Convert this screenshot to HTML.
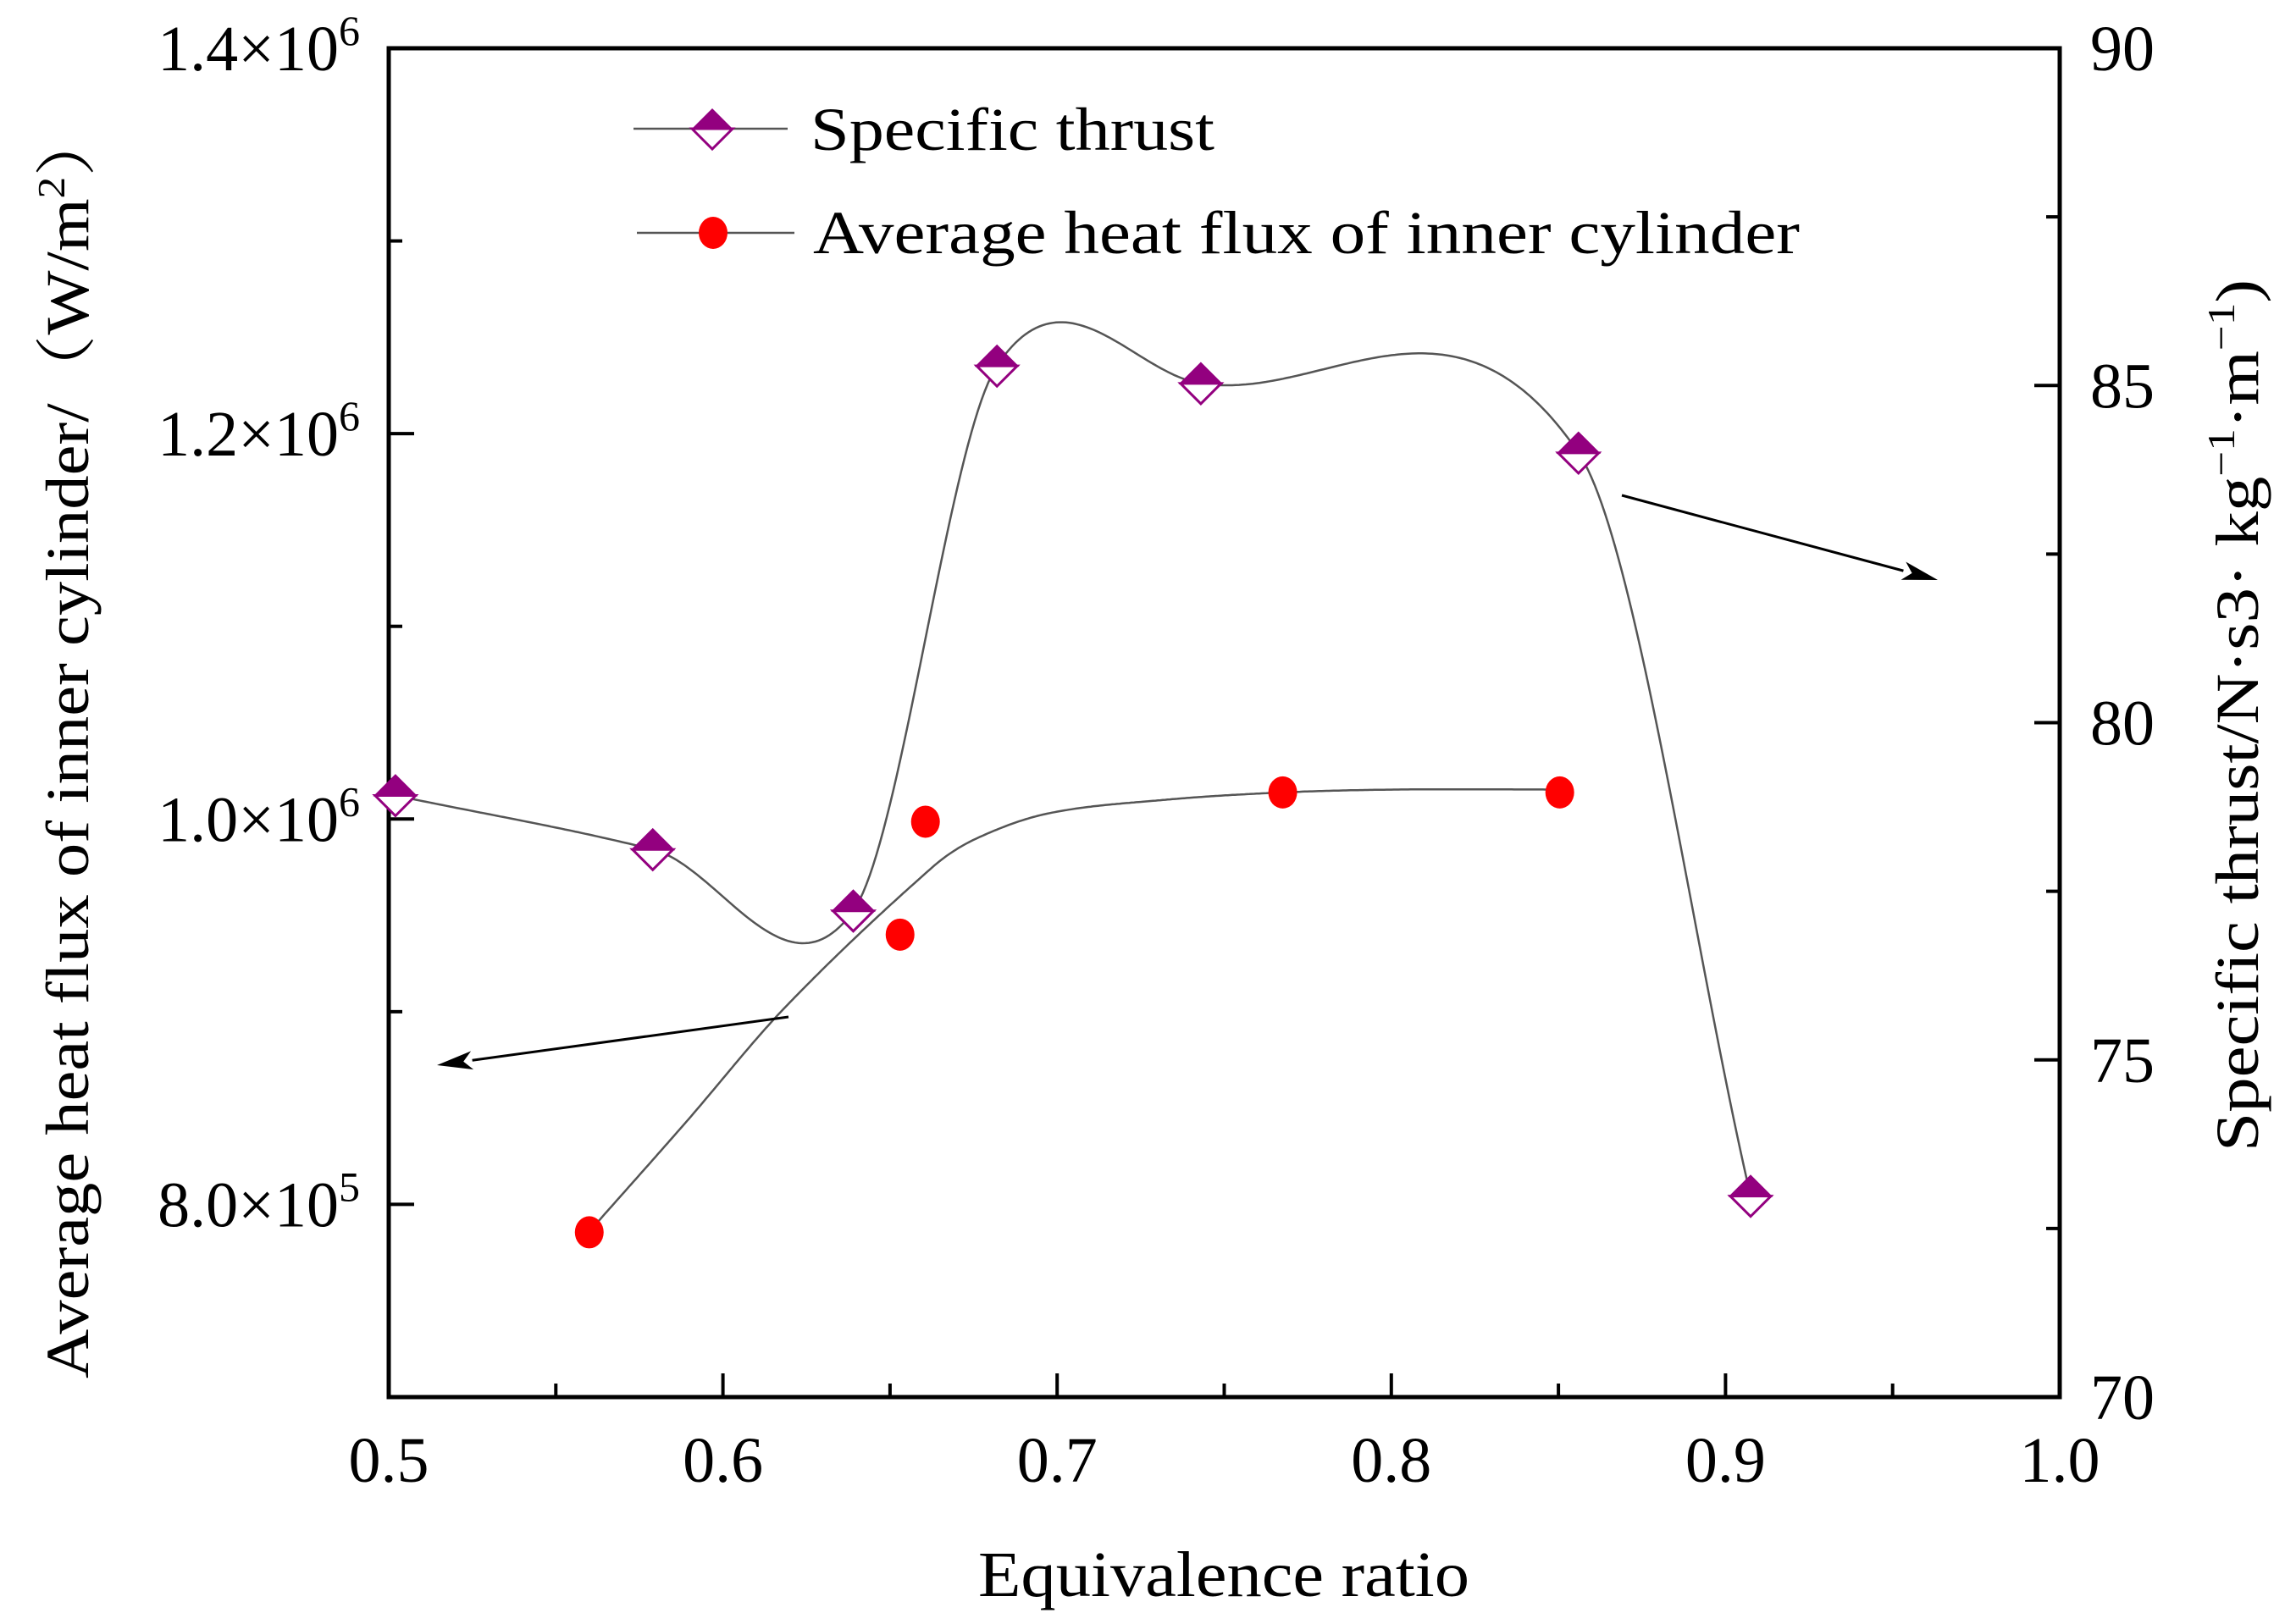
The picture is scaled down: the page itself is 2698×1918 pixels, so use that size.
<!DOCTYPE html>
<html><head><meta charset="utf-8"><style>
html,body{margin:0;padding:0;background:#fff;}
svg{display:block;font-family:"Liberation Serif","Noto Serif CJK SC",serif;}
</style></head><body>
<svg id="chart" width="2698" height="1918" viewBox="0 0 2698 1918">
<g id="grid"></g>
<g id="marks"></g>
</svg>
<script>
const thrustX = [0.502, 0.579, 0.639, 0.682, 0.743, 0.856, 0.9075];
const thrustY = [78.92, 78.12, 77.21, 85.29, 85.03, 84.0, 72.98];
const heatX = [0.560, 0.653, 0.6606, 0.7675, 0.8504];
const heatY = [785500, 940000, 998600, 1013800, 1013800];
const heatFitX = [0.5625, 0.5886, 0.619, 0.6627, 0.676, 0.6976, 0.7325, 0.7675, 0.802, 0.8504];
const heatFitY = [790800, 842000, 903000, 975000, 990000, 1003000, 1010000, 1013800, 1015300, 1015300];
const xTicks = [0.5, 0.6, 0.7, 0.8, 0.9, 1.0];
const xTickLabels = ["0.5","0.6","0.7","0.8","0.9","1.0"];
const leftTicks = [800000, 1000000, 1200000, 1400000];
const leftTickMant = ["8.0","1.0","1.2","1.4"];
const leftTickExp = ["5","6","6","6"];
const rightTicks = [70, 75, 80, 85, 90];

const L=459, R=2432, T=57, B=1650;
const X0=0.5, X1=1.0, YL0=700000, YL1=1400000, YR0=70, YR1=90;
const sx = v => L + (v-X0)/(X1-X0)*(R-L);
const syL = v => B - (v-YL0)/(YL1-YL0)*(B-T);
const syR = v => B - (v-YR0)/(YR1-YR0)*(B-T);
const NS="http://www.w3.org/2000/svg";
const grid=document.getElementById('grid'), marks=document.getElementById('marks');
function mk(tag, attrs, parent){const e=document.createElementNS(NS,tag);for(const k in attrs)e.setAttribute(k,attrs[k]);parent.appendChild(e);return e;}

let fr=mk('path',{d:`M${L},${T} H${R} V${B} H${L} Z`,fill:'none',stroke:'#000','stroke-width':5},grid);



for(let v=0.5; v<=1.0001; v+=0.05){
  const major=Math.abs(Math.round(v*10)-v*10)<1e-6;
  const x=sx(v);
  const t=mk('line',{x1:x,y1:B,x2:x,y2:B-(major?28:16),stroke:'#000','stroke-width':4},grid);
  
  
}
xTicks.forEach((v,i)=>{
  const t=mk('text',{x:sx(v),y:1750,'text-anchor':'middle','font-size':76},grid);
  t.textContent=xTickLabels[i];
  
  
});
for(let v=700000; v<=1400000; v+=100000){
  const major=(v/100000)%2===0;
  const y=syL(v);
  const t=mk('line',{x1:L,y1:y,x2:L+(major?30:16),y2:y,stroke:'#000','stroke-width':4},grid);
  
  
}
leftTicks.forEach((v,i)=>{
  const t=mk('text',{x:425,y:syL(v)+26,'text-anchor':'end','font-size':76},grid);
  t.textContent=leftTickMant[i]+'×10';
  const s=mk('tspan',{dy:-30,'font-size':50},t);
  s.textContent=leftTickExp[i];
  
  
});
for(let v=70; v<=90; v+=2.5){
  const major=v%5===0;
  const y=syR(v);
  const t=mk('line',{x1:R,y1:y,x2:R-(major?30:16),y2:y,stroke:'#000','stroke-width':4},grid);
  
  
}
rightTicks.forEach(v=>{
  const t=mk('text',{x:2468,y:syR(v)+26,'font-size':76},grid);
  t.textContent=String(v);
  
  
});

function hermite(xs,ys){
  const n=xs.length,m=[];
  for(let i=0;i<n;i++){
    if(i===0)m.push((ys[1]-ys[0])/(xs[1]-xs[0]));
    else if(i===n-1)m.push((ys[n-1]-ys[n-2])/(xs[n-1]-xs[n-2]));
    else m.push((ys[i+1]-ys[i-1])/(xs[i+1]-xs[i-1]));
  }
  return x=>{let i=0;while(i<n-2&&x>xs[i+1])i++;
    const h=xs[i+1]-xs[i],t=(x-xs[i])/h,t2=t*t,t3=t2*t;
    return (2*t3-3*t2+1)*ys[i]+(t3-2*t2+t)*h*m[i]+(-2*t3+3*t2)*ys[i+1]+(t3-t2)*h*m[i+1];};
}
function curvePath(xs,ys,sy){
  const f=hermite(xs,ys);let d='';
  const a=xs[0],e=xs[xs.length-1];
  for(let k=0;k<=400;k++){const x=a+(e-a)*k/400;d+=(k?'L':'M')+sx(x).toFixed(1)+','+sy(f(x)).toFixed(1);}
  return d;
}
const tc=mk('path',{d:curvePath(thrustX,thrustY,syR),fill:'none',stroke:'#555','stroke-width':2.5},marks);


const hc=mk('path',{d:curvePath(heatFitX,heatFitY,syL),fill:'none',stroke:'#555','stroke-width':2.5},marks);



function diamond(cx,cy,parent,name){
  const g=mk('g',{},parent);
  
  
  const r=24;
  mk('path',{d:`M${cx-r},${cy} L${cx},${cy+r} L${cx+r},${cy} Z`,fill:'#fff',stroke:'#93007f','stroke-width':3},g);
  mk('path',{d:`M${cx-r},${cy} L${cx},${cy-r} L${cx+r},${cy} Z`,fill:'#93007f',stroke:'#93007f','stroke-width':2},g);
}
thrustX.forEach((v,i)=>diamond(sx(v),syR(thrustY[i]),marks,'specific-thrust-point'));
heatX.forEach((v,i)=>{
  const c=mk('ellipse',{cx:sx(v),cy:syL(heatY[i]),rx:17,ry:19,fill:'#ff0000'},marks);
  
  
});

function arrow(x1,y1,x2,y2,name){
  const g=mk('g',{},marks);
  
  
  const ang=Math.atan2(y2-y1,x2-x1),len=42,w=11;
  const bx=x2-len*Math.cos(ang),by=y2-len*Math.sin(ang);
  mk('line',{x1:x1,y1:y1,x2:bx,y2:by,stroke:'#000','stroke-width':3},g);
  const px=-Math.sin(ang)*w,py=Math.cos(ang)*w;
  const ix=x2-len*0.75*Math.cos(ang),iy=y2-len*0.75*Math.sin(ang);
  mk('path',{d:`M${x2},${y2} L${bx+px},${by+py} L${ix},${iy} L${bx-px},${by-py} Z`,fill:'#000'},g);
}
arrow(1915,585,2288,685,'arrow-to-right-axis');
arrow(931,1201,516,1258,'arrow-to-left-axis');
</script>
<svg style="position:absolute;left:0;top:0" width="2698" height="1918">
<g font-family="Liberation Serif, serif">
 <g>
  <line x1="748" y1="152" x2="930" y2="152" stroke="#555" stroke-width="2.5"/>
  <path d="M817,152 L841,176 L865,152 Z" fill="#fff" stroke="#93007f" stroke-width="3"/>
  <path d="M817,152 L841,128 L865,152 Z" fill="#93007f"/>
  <text x="957" y="177" font-size="72" textLength="477" lengthAdjust="spacingAndGlyphs">Specific thrust</text>
 </g>
 <g>
  <line x1="752" y1="275" x2="938" y2="275" stroke="#555" stroke-width="2.5"/>
  <ellipse cx="842" cy="275" rx="17" ry="19" fill="#ff0000"/>
  <text x="960" y="299" font-size="72" textLength="1165" lengthAdjust="spacingAndGlyphs">Average heat flux of inner cylinder</text>
 </g>
</g>
<text x="1445" y="1885" text-anchor="middle" font-family="Liberation Serif, serif" font-size="76" textLength="580" lengthAdjust="spacingAndGlyphs">Equivalence ratio</text>
<text transform="translate(104,878) rotate(-90)" text-anchor="middle" font-family="Liberation Serif, 'Noto Serif CJK SC', serif" font-size="72" textLength="1500" lengthAdjust="spacingAndGlyphs">Average heat flux of inner cylinder/（W/m<tspan dy="-28" font-size="46">2</tspan><tspan dy="28">）</tspan></text>
<text transform="translate(2666,845) rotate(-90)" text-anchor="middle" font-family="Liberation Serif, serif" font-size="72" textLength="1030" lengthAdjust="spacingAndGlyphs">Specific thrust/N·s3· kg<tspan dy="-28" font-size="46">−1</tspan><tspan dy="28">·m</tspan><tspan dy="-28" font-size="46">−1</tspan><tspan dy="28">)</tspan></text>
</svg>
</body></html>
